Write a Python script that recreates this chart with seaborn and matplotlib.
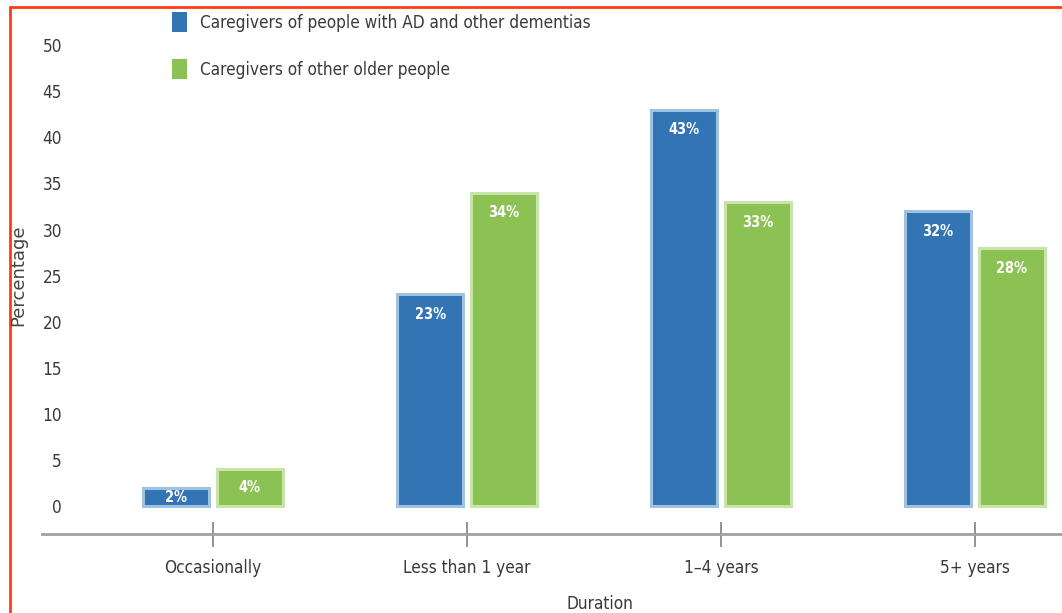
import matplotlib
matplotlib.use("Agg")
import matplotlib.pyplot as plt
from matplotlib.lines import Line2D
from matplotlib import font_manager
import seaborn as sns
import pandas as pd

# Duration of caregiving, share of caregivers (%)
categories = ["Occasionally", "Less than 1 year", "1\u20134 years", "5+ years"]
series_names = ["Caregivers of people with AD and other dementias",
                "Caregivers of other older people"]
ad_values = [2, 23, 43, 32]
other_values = [4, 34, 33, 28]
y_ticks = [0, 5, 10, 15, 20, 25, 30, 35, 40, 45, 50]

face_colors = ["#3274b4", "#8cc153"]
edge_colors = ["#9fc2e3", "#c8e4a8"]

df = pd.DataFrame({
    "Duration": categories * 2,
    "Percentage": ad_values + other_values,
    "Group": [series_names[0]] * len(categories) + [series_names[1]] * len(categories),
})

sns.set_style("white")

# pick a narrow face for the chart text
fonts = font_manager.fontManager.ttflist
names = {f.name for f in fonts}
stretch = "normal"
if "Liberation Sans Narrow" in names:
    family = "Liberation Sans Narrow"
    scale = 1.0
elif any(f.name == "DejaVu Sans" and str(f.stretch) in ("condensed", "semi-condensed") for f in fonts):
    family = "DejaVu Sans"
    stretch = "condensed"
    scale = 0.95
else:
    family = "Liberation Sans"
    scale = 0.9
plt.rcParams["font.family"] = [family, "DejaVu Sans"]
plt.rcParams["font.stretch"] = stretch

W, H = 1062, 613
fig = plt.figure(figsize=(W / 100, H / 100), dpi=100)

# axes frame in pixel terms
ax_left, ax_right = 42, 1062
ax_bottom_px, ax_top_px = 534, 26.6
ax = fig.add_axes([ax_left / W, (H - ax_bottom_px) / H,
                   (ax_right - ax_left) / W, (ax_bottom_px - ax_top_px) / H])

sns.barplot(data=df, x="Duration", y="Percentage", hue="Group",
            palette=face_colors, saturation=1, width=0.58, gap=0.1,
            linewidth=2.2, ax=ax, legend=True)

for cont, ec in zip(ax.containers, edge_colors):
    for p in cont:
        p.set_edgecolor(ec)

# value labels inside the bars
for cont in ax.containers:
    for p in cont:
        v = p.get_height()
        cx = p.get_x() + p.get_width() / 2
        ty = max(v - 2.2, v / 2)
        ax.text(cx, ty, f"{v:.0f}%", ha="center", va="center",
                color="white", fontsize=11 * scale, fontweight="bold")

ax.set_xlim(-0.673, 3.343)
ax.set_ylim(-3.0, 52)
ax.set_yticks(y_ticks)
ax.set_yticklabels([str(t) for t in y_ticks])

for s in ["top", "right", "left"]:
    ax.spines[s].set_visible(False)
ax.spines["bottom"].set_color("#a0a0a0")
ax.spines["bottom"].set_linewidth(2)

ax.tick_params(axis="y", left=False, length=0, pad=-14.4,
               labelsize=13 * scale, labelcolor="#3a3a3a")
for lbl in ax.get_yticklabels():
    lbl.set_horizontalalignment("right")
ax.tick_params(axis="x", bottom=True, direction="inout", length=18, width=1.3,
               color="#8a8a8a", pad=9, labelsize=13 * scale, labelcolor="#3a3a3a")

ax.set_xlabel("")
ax.set_ylabel("")
fig.text(600 / W, 1 - 604 / H, "Duration", ha="center", va="center",
         fontsize=13 * scale, color="#3a3a3a")
fig.text(18 / W, 1 - 275 / H, "Percentage", ha="center", va="center",
         rotation=90, fontsize=13, color="#444444", family="DejaVu Sans",
         stretch="normal")

# legend above the plot
handles, labels = ax.get_legend_handles_labels()
ax.get_legend().remove()
leg = fig.legend(handles, labels, loc="upper left",
                 bbox_to_anchor=(172 / W, 1 - 12 / H), frameon=False,
                 borderpad=0, borderaxespad=0, handlelength=0.9, handleheight=1.45,
                 handletextpad=0.75, labelspacing=1.55, fontsize=13 * scale)
for h, fc in zip(leg.legend_handles, face_colors):
    h.set_edgecolor("none")
    h.set_facecolor(fc)
for t in leg.get_texts():
    t.set_color("#3a3a3a")

# red frame around the graphic
frame_kw = dict(color="#ff3a14", linewidth=2, transform=fig.transFigure)
fig.add_artist(Line2D([10 / W, 10 / W], [0, 1 - 7 / H], **frame_kw))
fig.add_artist(Line2D([10 / W, 1], [1 - 7 / H, 1 - 7 / H], **frame_kw))

fig.savefig("out.png", dpi=100, facecolor="white")
